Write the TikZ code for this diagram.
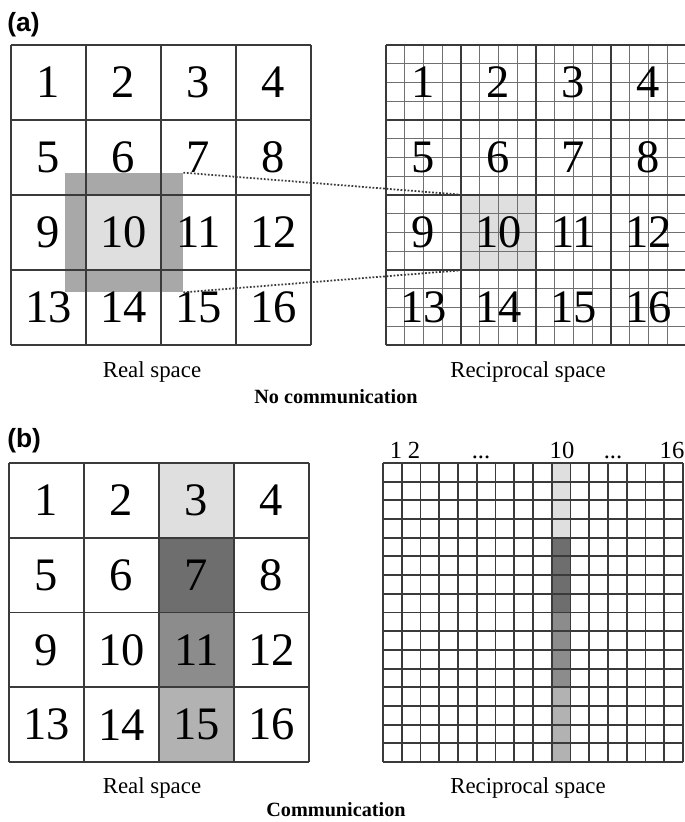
\documentclass[tikz,border=0pt]{standalone}
\usepackage{fontspec}
\setmainfont{Liberation Serif}
\newfontfamily\panelfont{Liberation Sans}
\usetikzlibrary{positioning}
\definecolor{gridline}{HTML}{3A3A3A}
\definecolor{minorline}{HTML}{707070}
\definecolor{shadelight}{HTML}{DFDFDF}
\definecolor{shadehalo}{HTML}{A8A8A8}
\definecolor{shadedark}{HTML}{6E6E6E}
\definecolor{shademid}{HTML}{8C8C8C}
\definecolor{shadepale}{HTML}{B2B2B2}
\tikzset{x=.02cm,y=-.02cm,
  every node/.style={inner sep=0pt},
  major/.style={draw=gridline,line width=1.1pt},
  minor/.style={draw=minorline,line width=.55pt},
  link/.style={draw=gridline,densely dotted,line width=1pt},
  cellnum/.style={font=\fontsize{26.5}{26.5}\selectfont},
  colnum/.style={font=\fontsize{14}{14}\selectfont,anchor=base},
  caption/.style={font=\fontsize{13}{13}\selectfont,anchor=base},
  title/.style={font=\fontsize{11.5}{11.5}\selectfont\bfseries,anchor=base},
  panel/.style={font=\fontsize{15}{15}\selectfont\panelfont\bfseries,anchor=base west},
  box/.style={minimum size=1.5cm}}

\begin{document}
\begin{tikzpicture}
\path[use as bounding box] (0,0) rectangle (685,822);

% (a) real space
\node[panel] (pa) at (7,31) {(a)};
\node[fill=shadehalo,minimum width=2.36cm,minimum height=2.38cm] (halo) at (124,232.5) {};
\node[box,fill=shadelight] (cella) at (123.5,232.5) {};
\foreach \i in {0,...,4}{
  \draw[major] ({11+75*\i},45) -- ({11+75*\i},345);
  \draw[major] (11,{45+75*\i}) -- (311,{45+75*\i});
}
\foreach \n in {1,...,16}{
  \pgfmathtruncatemacro{\row}{(\n-1)/4}
  \pgfmathtruncatemacro{\col}{mod(\n-1,4)}
  \node[cellnum] (ra\n) at ({48.5+75*\col},{82.5+75*\row}) {\n};
}
\node[caption] (capra) at (152,377) {Real space};

% (a) reciprocal space
\node[box,fill=shadelight] (cellk) at (498.5,232.5) {};
\foreach \i in {0,...,16}{
  \draw[minor] ({386+18.75*\i},45) -- ({386+18.75*\i},345);
  \draw[minor] (386,{45+18.75*\i}) -- (686,{45+18.75*\i});
}
\foreach \i in {0,...,4}{
  \draw[major] ({386+75*\i},45) -- ({386+75*\i},345);
  \draw[major] (386,{45+75*\i}) -- (686,{45+75*\i});
}
\foreach \n in {1,...,16}{
  \pgfmathtruncatemacro{\row}{(\n-1)/4}
  \pgfmathtruncatemacro{\col}{mod(\n-1,4)}
  \node[cellnum] (ka\n) at ({423.5+75*\col},{82.5+75*\row}) {\n};
}
\node[caption] (capka) at (528,377) {Reciprocal space};
\draw[link] (halo.north east) -- (cellk.north west);
\draw[link] (halo.south east) -- (cellk.south west);
\node[title] (ttla) at (336,403) {No communication};

% (b) real space
\node[panel] (pb) at (7,447) {(b)};
\node[box,fill=shadelight] (cb3) at (196.5,500.5) {};
\node[box,fill=shadedark] (cb7) at (196.5,575.5) {};
\node[box,fill=shademid] (cb11) at (196.5,650.5) {};
\node[box,fill=shadepale] (cb15) at (196.5,725) {};
\foreach \i in {0,...,4}{
  \draw[major] ({9+75*\i},463) -- ({9+75*\i},762);
  \draw[major] (9,{463+74.75*\i}) -- (309,{463+74.75*\i});
}
\foreach \n in {1,...,16}{
  \pgfmathtruncatemacro{\row}{(\n-1)/4}
  \pgfmathtruncatemacro{\col}{mod(\n-1,4)}
  \node[cellnum] (rb\n) at ({46.5+75*\col},{500.5+74.75*\row}) {\n};
}
\node[caption] (caprb) at (152,793) {Real space};

% (b) reciprocal space
\fill[shadelight] (551.75,463) rectangle (570.5,538);
\fill[shadedark] (551.75,538) rectangle (570.5,613);
\fill[shademid] (551.75,613) rectangle (570.5,687.5);
\fill[shadepale] (551.75,687.5) rectangle (570.5,762);
\foreach \i in {0,...,16}{
  \draw[major] ({383+18.75*\i},463) -- ({383+18.75*\i},762);
  \draw[major] (383,{463+18.69*\i}) -- (683,{463+18.69*\i});
}
\node[colnum] (kb1) at (396,458) {1};
\node[colnum] (kb2) at (414,458) {2};
\node[colnum] (kbdots) at (481,458) {...};
\node[colnum] (kb10) at (562,458) {10};
\node[colnum] (kbdotsb) at (613,458) {...};
\node[colnum] (kb16) at (672,458) {16};
\node[caption] (capkb) at (528,793) {Reciprocal space};
\node[title] (ttlb) at (336,816) {Communication};
\end{tikzpicture}
\end{document}
